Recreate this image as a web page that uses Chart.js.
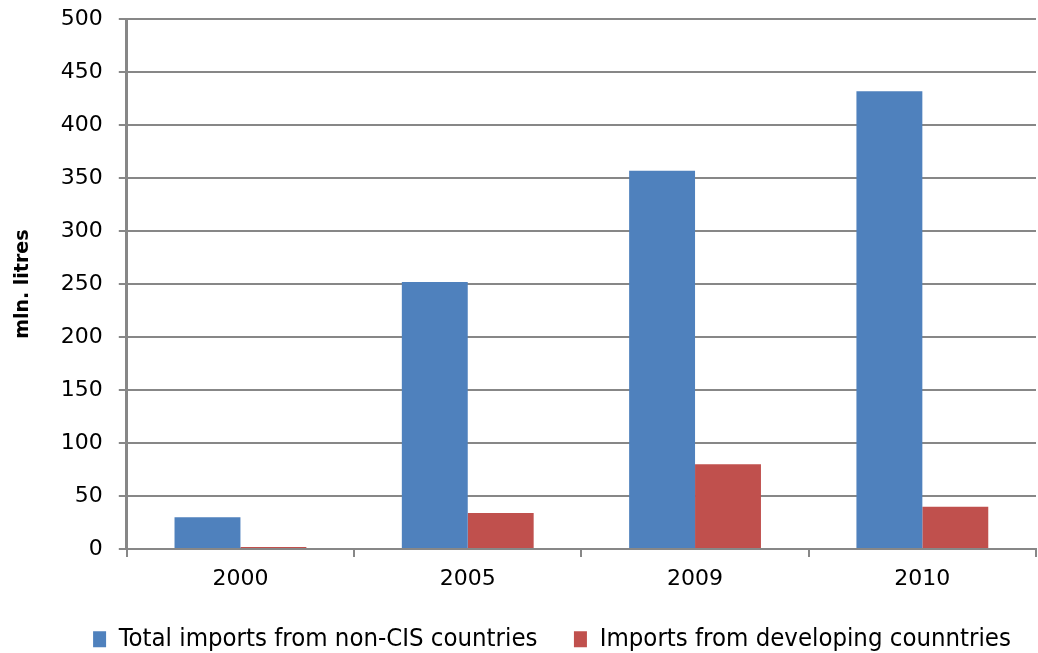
<!DOCTYPE html>
<html>
<head>
<meta charset="utf-8">
<script src="https://cdn.jsdelivr.net/npm/chart.js@4/dist/chart.umd.min.js"></script>
<style>
  html, body { margin: 0; padding: 0; background: #fff; }
  #wrap { width: 1038px; height: 653px; }
</style>
</head>
<body>
<div id="wrap"><canvas id="grafico" width="1038" height="653"></canvas></div>
<script>
// Datos
const anios = ['2000', '2005', '2009', '2010'];
const totalNoCEI = [30, 252, 357, 432];
const paisesDesarrollo = [2, 34, 80, 40];
const etiquetasSeries = ['Total imports from non-CIS countries', 'Imports from developing counntries'];

const gris = '#878787';

// La leyenda del original esta algo desplazada a la derecha
const desplazarLeyenda = {
    id: 'desplazarLeyenda',
    afterLayout(chart) {
        if (chart.legend) {
            chart.legend.left += 30;
            chart.legend.right += 30;
        }
    }
};

const ctx = document.getElementById('grafico').getContext('2d');
new Chart(ctx, {
    type: 'bar',
    data: {
        labels: anios,
        datasets: [
            // espacio extra al final para separar las entradas de la leyenda
            { label: etiquetasSeries[0] + '\u2002', data: totalNoCEI, backgroundColor: '#4F81BD' },
            { label: etiquetasSeries[1], data: paisesDesarrollo, backgroundColor: '#C0504D' }
        ]
    },
    options: {
        responsive: false,
        animation: false,
        layout: { padding: { top: 0, right: 2, left: 8, bottom: -9 } },
        datasets: { bar: { categoryPercentage: 0.58, barPercentage: 1.0 } },
        plugins: {
            tooltip: { enabled: false },
            legend: {
                position: 'bottom',
                labels: {
                    boxWidth: 13,
                    boxHeight: 16,
                    padding: 25,
                    color: '#000',
                    font: { family: "'DejaVu Sans Condensed', 'DejaVu Sans'", size: 25.5 }
                }
            }
        },
        scales: {
            x: {
                grid: { drawOnChartArea: false, drawTicks: true, tickLength: 8, color: gris, lineWidth: 2 },
                border: { display: true, color: gris, width: 2 },
                ticks: { color: '#000', padding: 9, font: { family: 'DejaVu Sans', size: 22 } }
            },
            y: {
                min: 0,
                max: 500,
                ticks: { stepSize: 50, color: '#000', padding: 16, font: { family: 'DejaVu Sans', size: 22, lineHeight: 0.3 } },
                grid: { color: gris, lineWidth: 2, tickLength: 8 },
                border: { display: true, color: gris, width: 3 },
                title: {
                    display: true,
                    text: 'mln. litres',
                    color: '#000',
                    padding: { top: 4, bottom: 10 },
                    font: { family: 'DejaVu Sans', size: 19, weight: 'bold' }
                }
            }
        }
    },
    plugins: [desplazarLeyenda]
});
</script>
</body>
</html>
